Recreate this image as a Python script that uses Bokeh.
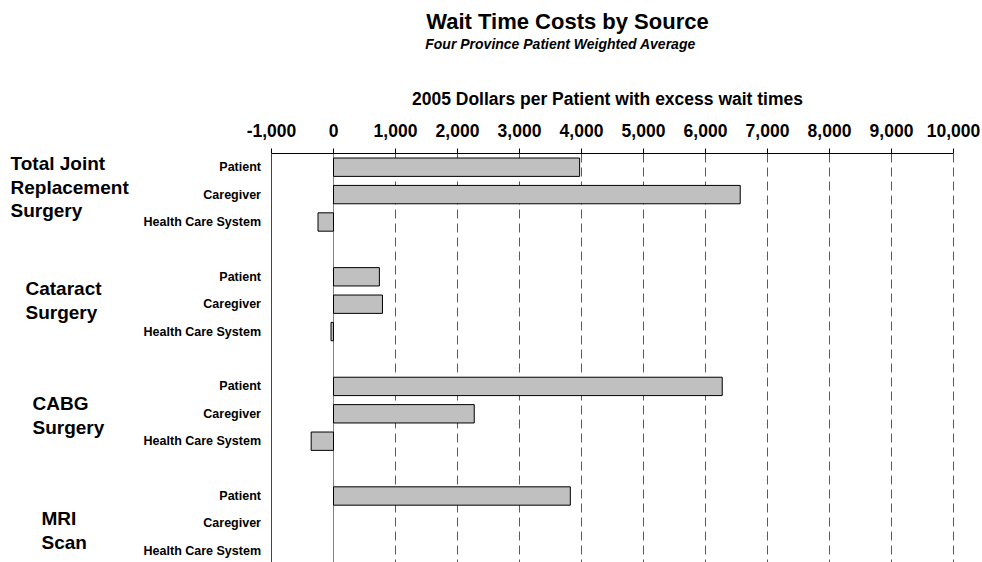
from bokeh.plotting import figure
from bokeh.layouts import column
from bokeh.models import (Range1d, FixedTicker, NumeralTickFormatter, LabelSet, Label,
                          ColumnDataSource, Span)
from bokeh.core.properties import value
from bokeh.embed import file_html
from bokeh.resources import INLINE

# ---------------- data ----------------
groups = ["Total Joint\nReplacement\nSurgery", "Cataract\nSurgery", "CABG\nSurgery", "MRI\nScan"]
sources = ["Patient", "Caregiver", "Health Care System"]
patient = [3970, 740, 6270, 3820]
caregiver = [6560, 790, 2270, 0]
health_care_system = [-250, -40, -360, 0]
axis_ticks = [-1000, 0, 1000, 2000, 3000, 4000, 5000, 6000, 7000, 8000, 9000, 10000]

title = "Wait Time Costs by Source"
subtitle = "Four Province Patient Weighted Average"
axis_title = "2005 Dollars per Patient with excess wait times"

# ---------------- layout constants (pixels) ----------------
FONT = "Liberation Sans"
W, H = 982, 562
HEAD_H = 112                   # height of the heading strip (titles)
AX_L, AX_R = 271, 953          # pixel position of first / last tick
FRAME_T = 153                  # top of plotting area
ROW_PX = 27.4
X0, X1 = axis_ticks[0], axis_ticks[-1]
Y_TOP = -0.5
Y_BOT = Y_TOP + (H - FRAME_T) / ROW_PX


def dx(px):
    return X0 + (px - AX_L) * (X1 - X0) / (AX_R - AX_L)


def dy(py):
    return Y_TOP + (py - FRAME_T) / ROW_PX


# ---------------- heading strip ----------------
head = figure(width=W, height=HEAD_H, output_backend="svg", toolbar_location=None,
              x_axis_location=None, y_axis_location=None, title_location=None,
              x_range=Range1d(0, W), y_range=Range1d(HEAD_H, 0),
              min_border_left=0, min_border_right=0, min_border_top=0, min_border_bottom=0)
head.outline_line_color = None
head.xgrid.visible = False
head.ygrid.visible = False
head.add_layout(Label(x=567, y=20.5, text=title, text_align="center",
                      text_baseline="middle", text_font=FONT, text_font_style="bold",
                      text_font_size="22px", text_color="black"))
head.add_layout(Label(x=560, y=43.7, text=subtitle, text_align="center",
                      text_baseline="middle", text_font=FONT,
                      text_font_style="bold italic",
                      text_font_size="14px", text_color="black"))
head.add_layout(Label(x=607, y=98.3, text=axis_title, text_align="center",
                      text_baseline="middle", text_font=FONT, text_font_style="bold",
                      text_font_size="17.5px", text_color="black"))

# ---------------- main chart ----------------
p = figure(width=W, height=H - HEAD_H, output_backend="svg", toolbar_location=None,
           x_axis_location="above", y_axis_location=None, title_location=None,
           x_range=Range1d(dx(0), dx(W)), y_range=Range1d(Y_BOT, Y_TOP),
           min_border_left=0, min_border_right=0,
           min_border_top=FRAME_T - HEAD_H, min_border_bottom=0)
p.outline_line_color = None
p.background_fill_color = "white"
p.border_fill_color = "white"

ax = p.xaxis[0]
ax.bounds = (X0, X1)
ax.ticker = FixedTicker(ticks=axis_ticks)
ax.formatter = NumeralTickFormatter(format="0,0")
ax.major_label_text_font = FONT
ax.major_label_text_font_style = "bold"
ax.major_label_text_font_size = "17.5px"
ax.major_label_text_color = "black"
ax.major_label_standoff = 12
ax.major_tick_in = 0
ax.major_tick_out = 5
ax.major_tick_line_color = "black"
ax.minor_tick_line_color = None
ax.axis_line_color = "black"

p.xgrid.ticker = FixedTicker(ticks=[t for t in axis_ticks if t > 0])
p.xgrid.grid_line_color = "#5a5a5a"
p.xgrid.grid_line_dash = "9 5"
p.ygrid.grid_line_color = None

left_line = Span(location=X0, dimension="height", line_color="#444444", line_width=1)
zero = Span(location=0, dimension="height", line_color="#808080", line_width=1)
zero.level = "underlay"
p.add_layout(left_line)
p.add_layout(zero)

# bars
ys, vals = [], []
label_y, label_t = [], []
for g in range(len(groups)):
    for k, series in enumerate([patient, caregiver, health_care_system]):
        idx = 4 * g + k
        label_y.append(idx)
        label_t.append(sources[k])
        if series[g] != 0:
            ys.append(idx)
            vals.append(series[g])

bar_src = ColumnDataSource(dict(y=ys, v=vals))
p.hbar(y="y", left=0, right="v", height=0.67, source=bar_src,
       fill_color="#c0c0c0", line_color="black", line_width=1)

# row labels
row_src = ColumnDataSource(dict(x=[dx(260.5)] * len(label_y), y=label_y, t=label_t))
p.add_layout(LabelSet(x="x", y="y", text="t", source=row_src,
                      text_align="right", text_baseline="middle",
                      text_font=value(FONT), text_font_style="bold",
                      text_font_size="12.5px", text_color="black"))

# group labels
group_left = [10, 25, 32, 41]
group_first = [163.3, 288.3, 403.3, 518.3]
LINE = 23.5
gx, gy, gt = [], [], []
for g, name in enumerate(groups):
    for j, line in enumerate(name.split("\n")):
        gx.append(dx(group_left[g]))
        gy.append(dy(group_first[g] + j * LINE))
        gt.append(line)
grp_src = ColumnDataSource(dict(x=gx, y=gy, t=gt))
p.add_layout(LabelSet(x="x", y="y", text="t", source=grp_src,
                      text_align="left", text_baseline="middle",
                      text_font=value(FONT), text_font_style="bold",
                      text_font_size="19px", text_color="black"))

layout = column(head, p, spacing=0)
open("out.html", "w").write(file_html(layout, INLINE))
